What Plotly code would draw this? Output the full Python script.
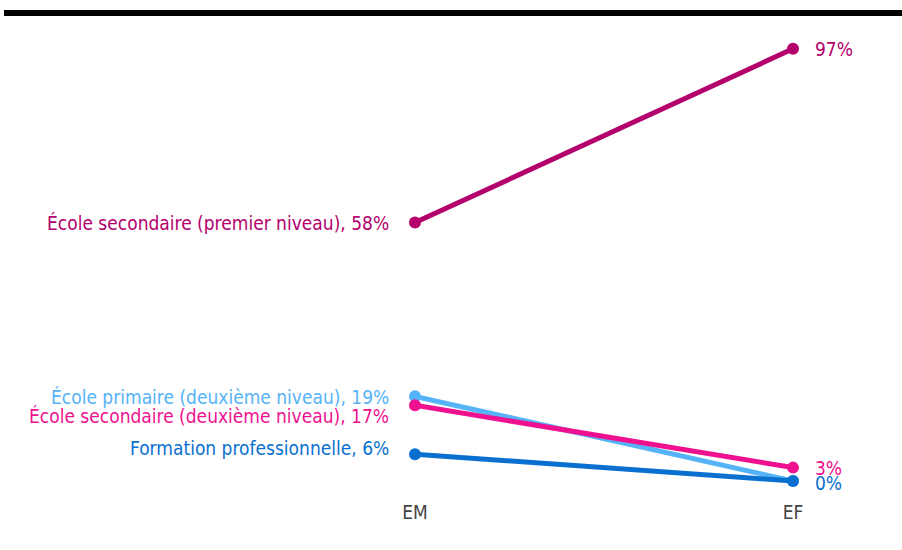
import plotly.graph_objects as go

# Stages compared and share of pupils per education level
stages = ["EM", "EF"]
series_names = [
    "École primaire (deuxième niveau)",
    "École secondaire (deuxième niveau)",
    "Formation professionnelle",
    "École secondaire (premier niveau)",
]
series_values = [
    [19, 0],
    [17, 3],
    [6, 0],
    [58, 97],
]
series_colors = ["#55b3f7", "#ef1190", "#0a70cf", "#b3006d"]
# vertical nudges (px) applied to start/end labels so they don't collide
start_label_shift = [-1, -11, 6, 0]
end_label_shift = [None, 0, -2, 0]

FONT = "DejaVu Sans Condensed, Liberation Sans, sans-serif"
FS = 19
W, H = 902, 550
ML, MR, MT, MB = 415, 109, 35, 65

fig = go.Figure()
annotations = []
for name, vals, col, s0, s1 in zip(series_names, series_values, series_colors,
                                   start_label_shift, end_label_shift):
    fig.add_trace(go.Scatter(
        x=[0, 1], y=vals, mode="lines+markers", name=name,
        line=dict(color=col, width=5),
        marker=dict(color=col, size=12),
        cliponaxis=False, showlegend=False, hoverinfo="skip",
    ))
    annotations.append(dict(
        x=0, y=vals[0], xref="x", yref="y", text=f"{name}, {vals[0]}%",
        showarrow=False, xanchor="right", yanchor="middle", xshift=-24, yshift=s0,
        font=dict(family=FONT, size=FS, color=col),
    ))
    if s1 is not None:
        annotations.append(dict(
            x=1, y=vals[1], xref="x", yref="y", text=f"{vals[1]}%",
            showarrow=False, xanchor="left", yanchor="middle", xshift=20, yshift=s1,
            font=dict(family=FONT, size=FS, color=col),
        ))

pw = W - ML - MR
ph = H - MT - MB
fig.update_layout(
    width=W, height=H,
    margin=dict(l=ML, r=MR, t=MT, b=MB),
    paper_bgcolor="white", plot_bgcolor="white",
    annotations=annotations,
    shapes=[dict(
        type="rect", xref="paper", yref="paper", layer="above",
        x0=(4 - ML) / pw, x1=(W - ML) / pw,
        y0=(H - MB - 16) / ph, y1=(H - MB - 10) / ph,
        fillcolor="black", line=dict(width=0),
    )],
    xaxis=dict(
        range=[0, 1], tickmode="array", tickvals=[0, 1], ticktext=stages,
        showgrid=True, gridcolor="#dddddd", gridwidth=2,
        zeroline=False, showline=False, ticks="", ticklen=0,
        ticklabelstandoff=14,
        tickfont=dict(family=FONT, size=FS, color="#444444"),
    ),
    yaxis=dict(
        range=[-0.9, 100.1], visible=False, showgrid=False, zeroline=False,
    ),
)

fig.write_html("out.html")
